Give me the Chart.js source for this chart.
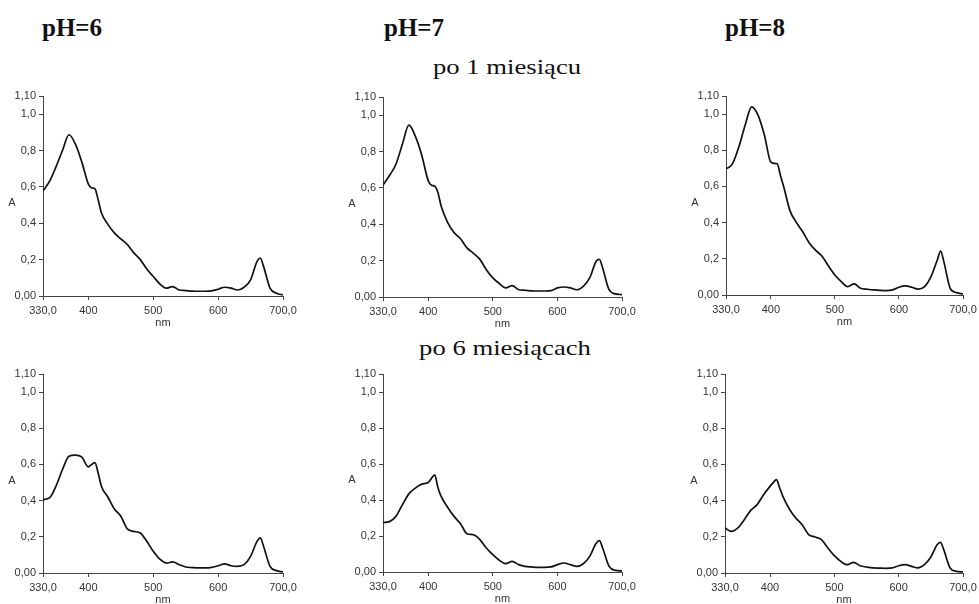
<!DOCTYPE html>
<html>
<head>
<meta charset="utf-8">
<script src="https://cdn.jsdelivr.net/npm/chart.js@4/dist/chart.umd.min.js"></script>
<style>
  html, body { margin: 0; padding: 0; background: #fff; }
  body { width: 979px; height: 604px; position: relative; overflow: hidden; }
  canvas { position: absolute; }
  .ph { position: absolute; font-family: "Liberation Serif", "Times New Roman", serif; font-weight: bold; font-size: 25px; line-height: 25px; color: #111; white-space: nowrap; }
  .sub { position: absolute; font-family: "Liberation Serif", "Times New Roman", serif; font-size: 21px; line-height: 21px; color: #111; white-space: nowrap; transform: translateX(-50%) scaleX(1.27); transform-origin: center; }
</style>
</head>
<body>
<div class="ph" style="left:42px; top:15px;">pH=6</div>
<div class="ph" style="left:384px; top:15px;">pH=7</div>
<div class="ph" style="left:725px; top:15px;">pH=8</div>
<div class="sub" style="left:507px; top:57px;">po 1 miesiącu</div>
<div class="sub" style="left:505px; top:338px;">po 6 miesiącach</div>

<canvas id="c1"></canvas>
<canvas id="c2"></canvas>
<canvas id="c3"></canvas>
<canvas id="c4"></canvas>
<canvas id="c5"></canvas>
<canvas id="c6"></canvas>

<script>
// ---- data ----
const wavelengths = [330,340,350,360,370,380,390,400,405,410,415,420,430,440,450,460,470,480,490,500,510,520,530,540,550,560,570,580,590,600,610,620,630,640,650,660,665,670,680,690,700];

const pH6_1m = [0.578,0.630,0.710,0.800,0.887,0.835,0.735,0.615,0.595,0.590,0.530,0.458,0.394,0.347,0.314,0.283,0.237,0.200,0.148,0.107,0.067,0.043,0.052,0.033,0.030,0.027,0.026,0.026,0.028,0.037,0.048,0.043,0.033,0.048,0.089,0.190,0.209,0.163,0.043,0.015,0.006];
const pH7_1m = [0.616,0.668,0.730,0.840,0.945,0.885,0.780,0.640,0.615,0.610,0.575,0.500,0.410,0.354,0.320,0.270,0.240,0.207,0.150,0.105,0.074,0.050,0.063,0.040,0.037,0.034,0.033,0.033,0.035,0.050,0.055,0.050,0.040,0.059,0.105,0.197,0.207,0.160,0.040,0.017,0.013];
const pH8_1m = [0.697,0.725,0.818,0.940,1.040,0.994,0.883,0.734,0.728,0.725,0.660,0.600,0.465,0.400,0.348,0.288,0.247,0.214,0.160,0.111,0.074,0.046,0.061,0.037,0.032,0.028,0.026,0.024,0.028,0.043,0.050,0.043,0.032,0.046,0.102,0.195,0.242,0.186,0.037,0.013,0.006];
const pH6_6m = [0.406,0.415,0.480,0.572,0.645,0.652,0.640,0.587,0.600,0.610,0.553,0.480,0.420,0.354,0.314,0.244,0.230,0.221,0.175,0.120,0.077,0.055,0.061,0.046,0.033,0.030,0.028,0.028,0.031,0.040,0.050,0.040,0.037,0.046,0.092,0.175,0.194,0.148,0.037,0.013,0.006];
const pH7_6m = [0.275,0.280,0.309,0.373,0.434,0.466,0.488,0.497,0.520,0.540,0.470,0.420,0.360,0.309,0.268,0.213,0.207,0.180,0.133,0.096,0.065,0.046,0.059,0.041,0.031,0.028,0.026,0.026,0.028,0.041,0.050,0.041,0.031,0.046,0.087,0.160,0.174,0.133,0.031,0.009,0.006];
const pH8_6m = [0.249,0.230,0.249,0.295,0.346,0.378,0.433,0.479,0.500,0.516,0.470,0.424,0.354,0.304,0.267,0.212,0.199,0.184,0.138,0.096,0.064,0.046,0.059,0.040,0.033,0.028,0.027,0.026,0.028,0.040,0.046,0.037,0.028,0.046,0.088,0.157,0.169,0.129,0.028,0.009,0.006];

const xTickValues = [330,400,500,600,700];
const xTickLabels = ['330,0','400','500','600','700,0'];
const yTickValues = [0,0.2,0.4,0.6,0.8,1.0,1.1];
const yTickLabels = ['0,00','0,2','0,4','0,6','0,8','1,0','1,10'];
const xTitle = 'nm';
const yTitle = 'A';

// ---- layout (plot area rectangles in page px) ----
const panels = [
  {id:'c1', data:pH6_1m, L:43,  R:283, T:96,  B:296},
  {id:'c2', data:pH7_1m, L:383, R:622, T:97,  B:297},
  {id:'c3', data:pH8_1m, L:726, R:963, T:96,  B:295},
  {id:'c4', data:pH6_6m, L:43,  R:283, T:374, B:573},
  {id:'c5', data:pH7_6m, L:383, R:622, T:374, B:572},
  {id:'c6', data:pH8_6m, L:725, R:963, T:374, B:573}
];

const YW = 45, XH = 36, PT = 14, PR = 22;
const FONT = '"Liberation Sans", Arial, sans-serif';
const TXT = '#333';
const AXIS = '#444';

const axisTitles = {
  id: 'axisTitles',
  afterDraw(chart) {
    const ctx = chart.ctx, a = chart.chartArea;
    ctx.save();
    ctx.fillStyle = TXT;
    ctx.font = '11px ' + FONT;
    ctx.textAlign = 'center';
    ctx.textBaseline = 'middle';
    ctx.fillText(xTitle, (a.left + a.right) / 2, a.bottom + 27);
    ctx.fillText(yTitle, a.left - 31, (a.top + a.bottom) / 2 + 7);
    ctx.restore();
  }
};

panels.forEach(p => {
  const cv = document.getElementById(p.id);
  const w = (p.R - p.L) + YW + PR;
  const h = (p.B - p.T) + PT + XH;
  cv.width = w; cv.height = h;
  cv.style.width = w + 'px'; cv.style.height = h + 'px';
  cv.style.left = (p.L - YW) + 'px';
  cv.style.top = (p.T - PT) + 'px';

  new Chart(cv, {
    type: 'line',
    data: {
      datasets: [{
        data: wavelengths.map((x, i) => ({x: x, y: p.data[i]})),
        borderColor: '#111',
        borderWidth: 1.7,
        pointRadius: 0,
        fill: false,
        cubicInterpolationMode: 'monotone'
      }]
    },
    options: {
      responsive: false,
      animation: false,
      devicePixelRatio: 1,
      layout: { padding: { top: PT, right: PR, left: 0, bottom: 0 } },
      plugins: { legend: { display: false }, tooltip: { enabled: false }, title: { display: false } },
      scales: {
        x: {
          type: 'linear',
          min: 330, max: 700,
          afterFit: s => { s.height = XH; },
          afterBuildTicks: s => { s.ticks = xTickValues.map(v => ({value: v})); },
          grid: { display: true, drawOnChartArea: false, drawTicks: true, tickLength: 4, color: AXIS },
          border: { display: true, color: AXIS, width: 1 },
          ticks: {
            autoSkip: false, maxRotation: 0, padding: 4,
            color: TXT, font: { family: FONT, size: 11 },
            callback: v => xTickLabels[xTickValues.indexOf(v)]
          }
        },
        y: {
          type: 'linear',
          min: 0, max: 1.1,
          afterFit: s => { s.width = YW; },
          afterBuildTicks: s => { s.ticks = yTickValues.map(v => ({value: v})); },
          grid: { display: true, drawOnChartArea: false, drawTicks: true, tickLength: 4, color: AXIS },
          border: { display: true, color: AXIS, width: 1 },
          ticks: {
            autoSkip: false, padding: 3,
            color: TXT, font: { family: FONT, size: 11 },
            callback: v => yTickLabels[yTickValues.indexOf(v)]
          }
        }
      }
    },
    plugins: [axisTitles]
  });
});
</script>
</body>
</html>
